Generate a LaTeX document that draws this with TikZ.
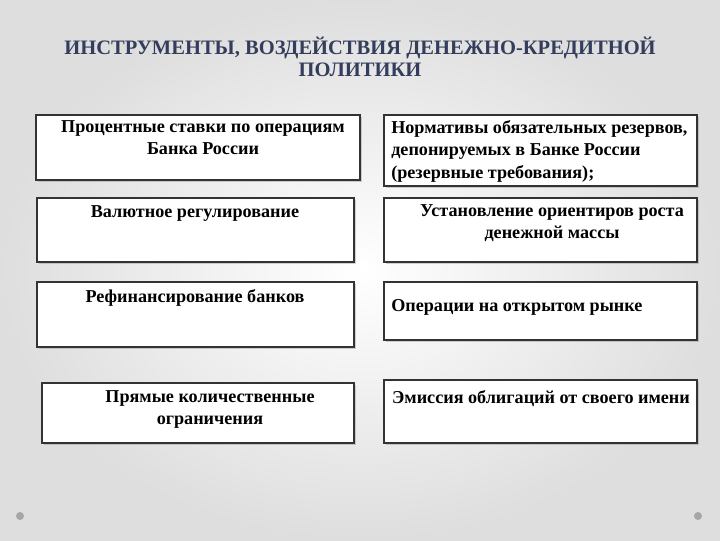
\documentclass[tikz,border=0pt]{standalone}
\usepackage{fontspec}
\setmainfont{Liberation Serif}
\usetikzlibrary{shadows}
\definecolor{titleblue}{RGB}{52,62,92}
\definecolor{slidegray}{RGB}{222,222,222}
\tikzset{
  instbox/.style={draw=black!80, line width=0.9pt, fill=white, rectangle,
    drop shadow={shadow xshift=1.2pt, shadow yshift=-1.2pt, opacity=0.35}},
  insttext/.style={anchor=north, align=center, font=\bfseries\fontsize{12.9}{16}\selectfont,
    inner sep=0pt}
}
\begin{document}
\begin{tikzpicture}[x=0.025cm,y=-0.025cm]
\useasboundingbox (0,0) rectangle (720,540);
\shade[inner color=white, outer color=slidegray] (0,0) rectangle (720,540);

% Title
\node[font=\bfseries\fontsize{14.6}{15.5}\selectfont, text=titleblue, align=center] (title) at (360,57)
  {ИНСТРУМЕНТЫ, ВОЗДЕЙСТВИЯ ДЕНЕЖНО-КРЕДИТНОЙ\\ПОЛИТИКИ};

% Left column
\draw[instbox] (36,115) rectangle (360,180);
\node[insttext] (l1) at (203,120) {Процентные ставки по операциям\\Банка России};
\draw[instbox] (37,198) rectangle (354,262);
\node[insttext] (l2) at (195,205) {Валютное регулирование};
\draw[instbox] (37,282) rectangle (354,347);
\node[insttext] (l3) at (195,289) {Рефинансирование банков};
\draw[instbox] (42,383) rectangle (354,443);
\node[insttext] (l4) at (210,390) {Прямые количественные\\ограничения};

% Right column
\draw[instbox] (384,115) rectangle (697,186);
\node[insttext, anchor=north west, align=left] (r1) at (391,120) {Нормативы обязательных резервов,\\депонируемых в Банке России\\(резервные требования);};
\draw[instbox] (384,198) rectangle (697,262);
\node[insttext] (r2) at (552,204) {Установление ориентиров роста\\денежной массы};
\draw[instbox] (384,282) rectangle (697,340);
\node[insttext, anchor=west, align=left] (r3) at (391,307) {Операции на открытом рынке};
\draw[instbox] (384,380) rectangle (697,443);
\node[insttext] (r4) at (541,390) {Эмиссия облигаций от своего имени};

% Corner dots
\fill[gray!70] (20,516) circle (4);
\fill[gray!70] (698,516) circle (4);
\end{tikzpicture}
\end{document}
